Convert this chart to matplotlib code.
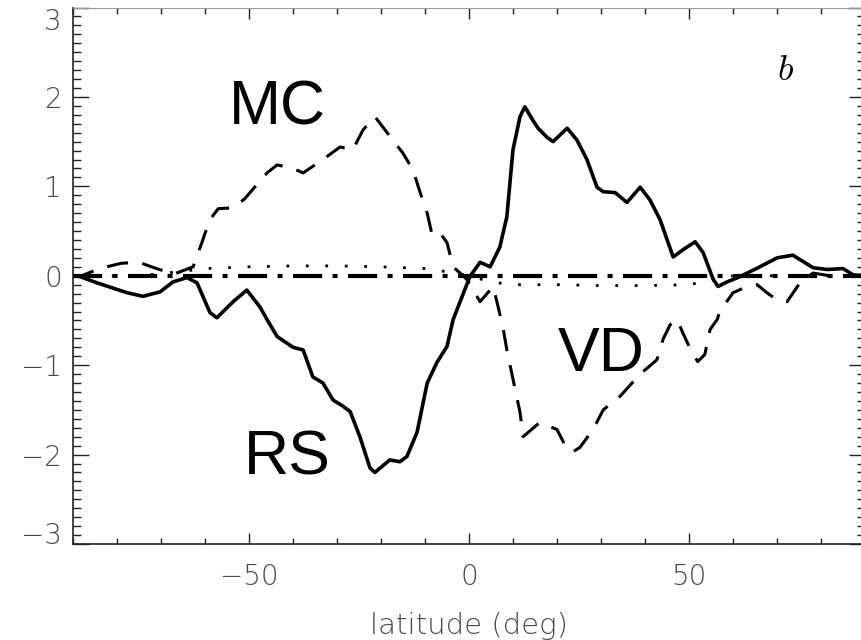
"""Latitudinal profiles (panel b): RS / MC / VD contributions"""
import numpy as np
import matplotlib
matplotlib.use('Agg')
import matplotlib.pyplot as plt
from matplotlib.ticker import MultipleLocator

plt.rcParams['mathtext.fontset'] = 'cm'

# --- data ---
rs_lat = [-90, -88.4, -84.5, -77.7, -74.1, -70.2, -67.3, -64.1, -61.8, -58.9, -57.3,
          -53.6, -50.5, -47.5, -45.9, -43.6, -40.0, -37.7, -35.5, -33.2, -30.9,
          -28.6, -27.0, -24.8, -22.5, -21.4, -18.0, -15.7, -14.1, -11.8, -9.5,
          -7.3, -5.0, -3.6, 0.2, 2.5, 4.8, 7.0, 8.6, 10.0, 11.6, 12.7, 14.5,
          15.7, 17.7, 19.1, 22.3, 24.5, 26.8, 29.1, 30.5, 33.2, 35.9, 38.9,
          41.1, 43.4, 46.4, 48.6, 51.4, 53.2, 55.5, 56.6, 58.6, 61.6, 66.1,
          70.0, 73.6, 78.2, 81.4, 85.0, 87.3, 90]
rs_val = [0.0, -0.01, -0.08, -0.19, -0.23, -0.18, -0.07, -0.02, -0.08, -0.41, -0.47,
          -0.29, -0.16, -0.35, -0.49, -0.68, -0.80, -0.83, -1.13, -1.20, -1.39,
          -1.46, -1.52, -1.80, -2.15, -2.20, -2.06, -2.08, -2.02, -1.75, -1.20,
          -0.97, -0.79, -0.49, -0.01, 0.15, 0.10, 0.32, 0.66, 1.41, 1.78, 1.89, 1.74,
          1.65, 1.55, 1.50, 1.65, 1.52, 1.30, 0.99, 0.94, 0.93, 0.82, 0.99,
          0.85, 0.63, 0.21, 0.29, 0.38, 0.26, -0.04, -0.12, -0.07, -0.01, 0.10,
          0.20, 0.23, 0.09, 0.07, 0.08, 0.01, 0.0]

mc_lat = [-90, -88, -84, -79, -75, -71, -67, -62.7, -60.5, -59, -57, -53.5, -51,
          -45.9, -43.6, -40.0, -37.7, -33.2, -29.3, -26.4, -24.1, -21.4, -18.6,
          -15.0, -12.7, -11.1, -9.5, -8.4, -6.6, -5.0, -3.6, -0.5, 2.5, 5.5,
          7.7, 8.6, 11.6, 12.3, 16.1, 20.0, 22.3, 23.6, 25.2, 28.2, 30.5, 34.3,
          38.9, 42.7, 44.1, 45.7, 47.3, 48.6, 50.7, 52.0, 53.6, 54.8, 56.4,
          57.0, 60.0, 63.2, 65.5, 67.7, 70.0, 72.3, 75.2, 78.2, 82.0, 86.6, 90]
mc_val = [0.0, 0.0, 0.08, 0.14, 0.15, 0.08, 0.02, 0.10, 0.40, 0.62, 0.75, 0.76, 0.86,
          1.15, 1.24, 1.20, 1.15, 1.30, 1.44, 1.41, 1.63, 1.78, 1.60,
          1.37, 1.18, 0.93, 0.70, 0.46, 0.48, 0.37, 0.10, -0.04, -0.29, -0.12,
          -0.57, -0.83, -1.53, -1.80, -1.64, -1.72, -1.94, -1.97, -1.92, -1.72, -1.50, -1.35,
          -1.10, -0.94, -0.71, -0.55, -0.49, -0.64, -0.86, -0.96, -0.88, -0.60, -0.49,
          -0.40, -0.19, -0.12, -0.10, -0.19, -0.27, -0.29, -0.08, 0.03, 0.0, 0.0, 0.0]

vd_lat = [-90, -75, -65, -60, -50, -40, -30, -20, -10, -3, 0, 5, 10, 20, 30, 40,
          50, 55, 60, 70, 80, 90]
vd_val = [0.0, 0.0, 0.05, 0.08, 0.10, 0.11, 0.11, 0.10, 0.08, 0.03, 0.0, -0.07,
          -0.10, -0.10, -0.11, -0.11, -0.10, -0.05, 0.0, 0.0, 0.0, 0.0]

sum_lat = [-90, 90]
sum_val = [0.0, 0.0]

fig = plt.figure(figsize=(8.62, 6.40), dpi=100)
ax = fig.add_axes([73 / 862, 96 / 640, 792 / 862, 536.5 / 640])

ax.plot(rs_lat, rs_val, color='black', linewidth=2.6, solid_joinstyle='round')
ax.plot(mc_lat, mc_val, color='black', linewidth=2.2, linestyle=(0, (7, 4.7)))
ax.plot(vd_lat, vd_val, color='black', linewidth=2.0, linestyle=(0, (1, 6)))
ax.plot(sum_lat, sum_val, color='black', linewidth=3.0,
        linestyle=(0, (7, 2.5, 1.2, 2.5)))

ax.set_xlim(-90, 90)
ax.set_ylim(-3, 3)

# labels on the curves
ax.text(-43.6, 1.69, 'MC', fontsize=45, family='Liberation Sans', ha='center', va='baseline')
ax.text(-41.4, -2.22, 'RS', fontsize=45, family='Liberation Sans', ha='center', va='baseline')
ax.text(30.0, -1.07, 'VD', fontsize=45, family='Liberation Sans', ha='center', va='baseline')
ax.text(72, 2.19, r'$b$', fontsize=26, ha='center', va='baseline')

# IDL-like axes
ax.xaxis.set_major_locator(MultipleLocator(50))
ax.xaxis.set_minor_locator(MultipleLocator(10))
ax.yaxis.set_major_locator(MultipleLocator(1))
ax.yaxis.set_minor_locator(MultipleLocator(0.1))
ax.tick_params(axis='both', which='both', direction='in', top=True, right=True,
               color='#222222', labelcolor='#4a4a4a', labelsize=20)
ax.tick_params(axis='x', which='major', length=8, width=1.0, pad=14)
ax.tick_params(axis='x', which='minor', length=4, width=1.0)
ax.tick_params(axis='y', which='major', length=11.5, width=1.0, pad=8)
ax.tick_params(axis='y', which='minor', length=5.8, width=1.0)

# end labels of the y axis sit inside the axis range
ylocs = ax.yaxis.get_majorticklocs()
for loc, tick in zip(ylocs, ax.yaxis.get_major_ticks()):
    if np.isclose(loc, 3):
        tick.label1.set_verticalalignment('top')
    elif np.isclose(loc, -3):
        tick.label1.set_verticalalignment('baseline')
for lbl in ax.get_xticklabels() + ax.get_yticklabels():
    lbl.set_fontweight('light')

for side in ['left', 'bottom']:
    ax.spines[side].set_color('#222222')
    ax.spines[side].set_linewidth(1.2)
ax.spines['top'].set_color('#999999')
ax.spines['right'].set_color('#999999')

ax.set_xlabel('latitude (deg)', fontsize=21, color='#4a4a4a', fontweight='light', labelpad=15)

fig.savefig('out.png', dpi=100)
